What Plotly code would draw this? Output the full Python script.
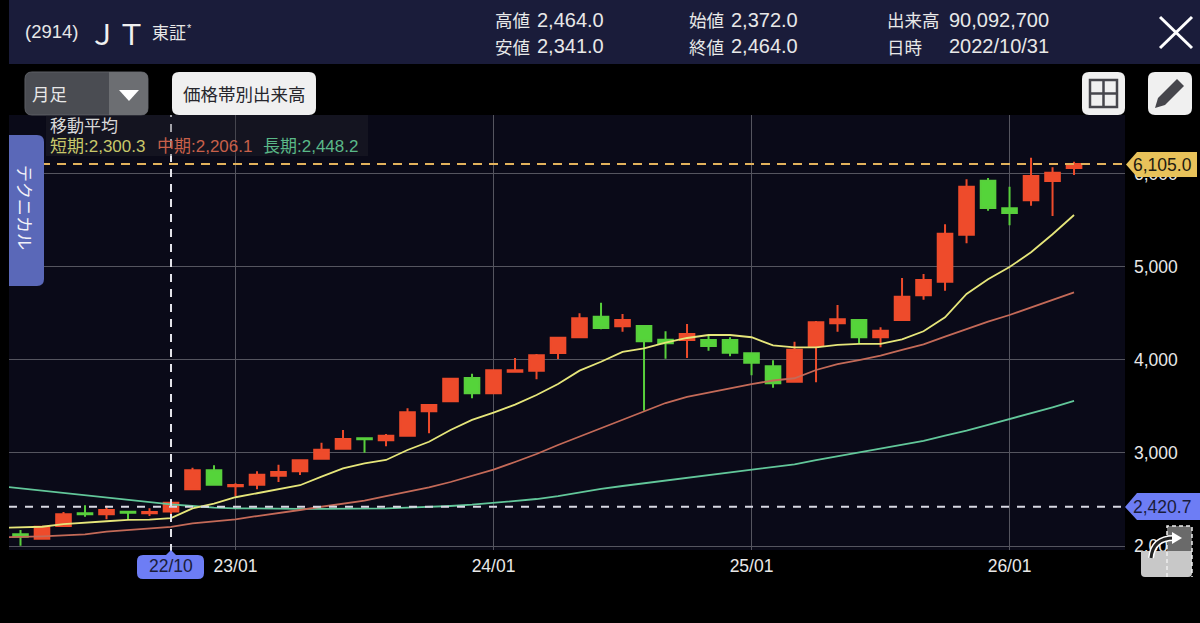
import plotly.graph_objects as go

W, H = 1200, 623
FONT = "Liberation Sans, Noto Sans CJK JP, sans-serif"
CJK = "Noto Sans CJK JP, sans-serif"

months = ["22/02", "22/03", "22/04", "22/05", "22/06", "22/07", "22/08", "22/09", "22/10", "22/11", "22/12",
          "23/01", "23/02", "23/03", "23/04", "23/05", "23/06", "23/07", "23/08", "23/09", "23/10", "23/11", "23/12",
          "24/01", "24/02", "24/03", "24/04", "24/05", "24/06", "24/07", "24/08", "24/09", "24/10", "24/11", "24/12",
          "25/01", "25/02", "25/03", "25/04", "25/05", "25/06", "25/07", "25/08", "25/09", "25/10", "25/11", "25/12",
          "26/01", "26/02", "26/03", "26/04"]

opens = [None, 2126, 2078, 2215, 2352, 2341, 2369, 2351, 2372, 2610, 2814,
         2642, 2659, 2756, 2803, 2938, 3046, 3158, 3136, 3186, 3448, 3556, 3806,
         3642, 3874, 3884, 4075, 4243, 4465, 4362, 4365, 4218, 4215, 4215, 4215,
         4072, 3932, 3766, 4150, 4394, 4430, 4243, 4430, 4695, 4841, 5347, 5927,
         5630, 5716, 5924, 6064]
highs = [None, 2172, 2210, 2365, 2437, 2433, 2380, 2405, 2464, 2842, 2868,
         2674, 2803, 2874, 2925, 3110, 3247, 3164, 3204, 3480, 3527, 3809, 3852,
         3889, 4021, 4064, 4239, 4501, 4615, 4494, 4365, 4308, 4387, 4268, 4243,
         4072, 3996, 4196, 4419, 4591, 4440, 4351, 4881, 4924, 5458, 5942, 5956,
         5863, 6174, 6071, 6131]
lows = [None, 2003, 2070, 2204, 2315, 2287, 2280, 2322, 2341, 2600, 2652,
        2538, 2610, 2688, 2763, 2928, 3046, 3003, 3072, 3186, 3212, 3556, 3588,
        3642, 3874, 3792, 4010, 4233, 4330, 4304, 3454, 4013, 4021, 4100, 4039,
        3835, 3702, 3766, 3760, 4304, 4179, 4136, 4430, 4648, 4744, 5254, 5604,
        5448, 5658, 5548, 5988]
closes = [None, 2100, 2207, 2341, 2342, 2387, 2358, 2365, 2464, 2814, 2659,
          2656, 2766, 2796, 2921, 3035, 3150, 3147, 3186, 3437, 3516, 3799, 3642,
          3889, 3889, 4050, 4239, 4448, 4343, 4430, 4200, 4179, 4279, 4150, 4078,
          3970, 3749, 4110, 4405, 4437, 4243, 4314, 4680, 4860, 5357, 5863, 5634,
          5580, 5978, 6013, 6105]

ma_short = [2195, 2201, 2207, 2236, 2255, 2266, 2280, 2283, 2300.3, 2405, 2455,
            2524, 2567, 2610, 2653, 2745, 2835, 2889, 2925, 3032, 3121, 3247, 3355,
            3433, 3519, 3623, 3742, 3885, 3981, 4086, 4125, 4185, 4236, 4268, 4268,
            4244, 4157, 4136, 4136, 4161, 4172, 4172, 4222, 4308, 4459, 4709, 4867,
            4999, 5157, 5351, 5558]
ma_mid = [2092, 2097, 2104, 2115, 2126, 2154, 2172, 2190, 2206.1, 2244, 2266,
          2287, 2322, 2352, 2387, 2422, 2451, 2487, 2537, 2580, 2629, 2688, 2752,
          2822, 2903, 2989, 3086, 3177, 3265, 3354, 3444, 3537, 3602, 3648, 3698,
          3741, 3779, 3803, 3892, 3956, 3999, 4046, 4107, 4168, 4250, 4333, 4411,
          4483, 4562, 4644, 4727]
ma_long = [2645, 2620, 2591, 2567, 2541, 2516, 2495, 2473, 2448.2, 2430, 2412,
           2405, 2401, 2400, 2400, 2400, 2400, 2401, 2405, 2412, 2419, 2430, 2444,
           2465, 2484, 2505, 2537, 2577, 2613, 2645, 2674, 2702, 2731, 2756, 2788,
           2817, 2842, 2878, 2924, 2964, 3003, 3043, 3083, 3129, 3186, 3239, 3301,
           3362, 3427, 3491, 3559]

price_ticks = [2000, 3000, 4000, 5000, 6000]
month_ticks = ["23/01", "24/01", "25/01", "26/01"]
cursor_month = "22/10"
cursor_price = 2420.7
last_price = 6105.0

fig = go.Figure()

# === ローソク足 ===
fig.add_trace(go.Candlestick(
    x=months, open=opens, high=highs, low=lows, close=closes,
    increasing_line_color="#ee4b2b", increasing_fillcolor="#ee4b2b",
    decreasing_line_color="#58cf3c", decreasing_fillcolor="#55d43a",
    increasing_line_width=2, decreasing_line_width=2,
    hoverinfo="skip",
))

# === 移動平均 ===
for values, color in [(ma_long, "#62c79a"), (ma_mid, "#c46a58"), (ma_short, "#e6e67a")]:
    fig.add_trace(go.Scatter(x=months, y=values, mode="lines",
                             line=dict(color=color, width=1.8), hoverinfo="skip"))


def pt(x, y):
    return f"{x / W:.5f},{1 - y / H:.5f}"


def rounded(x0, y0, x1, y1, r, corners="abcd"):
    # a: 左上 b: 右上 c: 右下 d: 左下
    ra, rb, rc, rd = [r if k in corners else 0 for k in "abcd"]
    return (f"M {pt(x0 + ra, y0)} L {pt(x1 - rb, y0)} Q {pt(x1, y0)} {pt(x1, y0 + rb)} "
            f"L {pt(x1, y1 - rc)} Q {pt(x1, y1)} {pt(x1 - rc, y1)} "
            f"L {pt(x0 + rd, y1)} Q {pt(x0, y1)} {pt(x0, y1 - rd)} "
            f"L {pt(x0, y0 + ra)} Q {pt(x0, y0)} {pt(x0 + ra, y0)} Z")


def poly(*points):
    return "M " + " L ".join(pt(x, y) for x, y in points) + " Z"


def chrome(path, fill=None, line=None, width=0, dash=None):
    fig.add_shape(type="path", path=path, xref="paper", yref="paper", layer="above",
                  fillcolor=fill if fill else "rgba(0,0,0,0)",
                  line=dict(color=line if line else "rgba(0,0,0,0)", width=width, dash=dash))


def label(x, y, text, size=15, color="#e8e8e8", anchor="left", family=FONT, angle=0):
    fig.add_annotation(x=x / W, y=1 - y / H, xref="paper", yref="paper", text=text, showarrow=False,
                       xanchor=anchor, yanchor="middle", textangle=angle,
                       font=dict(size=size, color=color, family=family),
                       borderpad=0, borderwidth=0)


# === カーソルと現在値の線 ===
fig.add_shape(type="line", xref="x", yref="paper", x0=cursor_month, x1=cursor_month,
              y0=1 - 552 / H, y1=1 - 115 / H, layer="above",
              line=dict(color="#e4e4ea", width=2, dash="8px,7px"))
fig.add_shape(type="line", xref="paper", yref="y", x0=9 / W, x1=1125 / W, y0=cursor_price, y1=cursor_price,
              layer="above", line=dict(color="#d8d8e2", width=2, dash="8px,8px"))
fig.add_shape(type="line", xref="paper", yref="y", x0=9 / W, x1=1125 / W, y0=last_price, y1=last_price,
              layer="above", line=dict(color="#e2b25c", width=2, dash="9px,7px"))

# === ヘッダー ===
chrome(poly((9, 0), (1200, 0), (1200, 64), (9, 64)), fill="#1a1c3a")
label(25, 32, "(2914)", size=18.5)
label(88, 32, "ＪＴ", size=29, family=CJK, color="#f0f0f0")
label(152, 32, "東証", size=17, family=CJK)
label(187, 28, "*", size=11)
for x, y, name, value, vx in [(495, 20, "高値", "2,464.0", 537), (495, 46, "安値", "2,341.0", 537),
                              (689, 20, "始値", "2,372.0", 731), (689, 46, "終値", "2,464.0", 731),
                              (887, 20, "出来高", "90,092,700", 949), (887, 46, "日時", "2022/10/31", 949)]:
    label(x, y, name, size=17.5, family=CJK)
    label(vx, y, value, size=20)
fig.add_shape(type="line", xref="paper", yref="paper", layer="above", x0=1160 / W, x1=1192 / W,
              y0=1 - 17 / H, y1=1 - 48 / H, line=dict(color="#ffffff", width=3))
fig.add_shape(type="line", xref="paper", yref="paper", layer="above", x0=1192 / W, x1=1160 / W,
              y0=1 - 17 / H, y1=1 - 48 / H, line=dict(color="#ffffff", width=3))

# === ボタン類 ===
chrome(rounded(25, 72, 148, 115, 7), fill="#4a4c52", line="#5c5e64", width=1)
chrome(rounded(109, 72, 148, 115, 7, corners="bc"), fill="#6c6e72")
chrome(poly((119, 90), (139, 90), (129, 101)), fill="#ffffff")
label(32, 94, "月足", size=17.5, family=CJK)
chrome(rounded(172, 72, 316, 115, 7), fill="#f0f0f0")
label(244, 94, "価格帯別出来高", size=17.5, color="#26262c", anchor="center", family=CJK)
chrome(rounded(1082, 72, 1125, 115, 7), fill="#f0f0f0")
chrome(poly((1090, 80), (1117, 80), (1117, 107), (1090, 107)), line="#46464c", width=2.5)
fig.add_shape(type="line", xref="paper", yref="paper", layer="above", x0=1103.5 / W, x1=1103.5 / W,
              y0=1 - 80 / H, y1=1 - 107 / H, line=dict(color="#46464c", width=2.5))
fig.add_shape(type="line", xref="paper", yref="paper", layer="above", x0=1090 / W, x1=1117 / W,
              y0=1 - 93.5 / H, y1=1 - 93.5 / H, line=dict(color="#46464c", width=2.5))
chrome(rounded(1148, 72, 1192, 115, 7), fill="#f0f0f0")
chrome(poly((1155, 108), (1158, 98), (1177, 79), (1184, 86), (1165, 105)), fill="#46464c")

# === 移動平均パネル ===
chrome(poly((46, 115), (368, 115), (368, 156), (46, 156)), fill="rgba(40,40,50,0.35)")
label(50, 125, "移動平均", size=17, color="#d8d8d8", family=CJK)
label(50, 146, "短期:2,300.3", size=17, color="#c8c86a")
label(157, 146, "中期:2,206.1", size=17, color="#c8604a")
label(263, 146, "長期:2,448.2", size=17, color="#5ab888")

# === テクニカルタブ ===
chrome(rounded(9, 135, 44, 286, 7, corners="bc"), fill="#5a68b8")
label(26, 207, "テクニカル", size=17, color="#f2f2f8", anchor="center", family=CJK, angle=90)

# === 価格タグ ===
chrome(poly((1126, 164.5), (1137, 152), (1197, 152), (1197, 177), (1137, 177)), fill="#e8c25a")
label(1162, 165, "6,105.0", size=17.5, color="#1e1a10", anchor="center")
chrome(poly((1125, 507), (1137, 493), (1200, 493), (1200, 520), (1137, 520)), fill="#6d7df5")
label(1162, 507, "2,420.7", size=17.5, color="#1a1c3a", anchor="center")

# === 日付タグ ===
chrome(rounded(137, 555, 204, 579, 6), fill="#6d7df5")
chrome(poly((166, 555), (171, 550), (176, 555)), fill="#6d7df5")
label(170.5, 566, "22/10", size=17.5, color="#1a1c3a", anchor="center")

# === 右下アイコン ===
chrome(rounded(1141, 551, 1192, 577, 4, corners="cd"), fill="#c8c8c8")
chrome(rounded(1167, 526, 1192, 551, 4, corners="b"), fill="#6a6a6a")
chrome(f"M {pt(1167, 577)} L {pt(1167, 526)} L {pt(1192, 526)} L {pt(1192, 577)}", line="#eeeeee", width=1.5, dash="4px,3px")
chrome(f"M {pt(1151, 558)} Q {pt(1153, 538)} {pt(1174, 538)}", line="#ffffff", width=6)
chrome(f"M {pt(1151, 558)} Q {pt(1153, 538)} {pt(1174, 538)}", line="#222222", width=3)
chrome(poly((1172, 532), (1182, 538), (1172, 544)), fill="#ffffff")

fig.update_layout(
    width=W, height=H,
    margin=dict(l=0, r=0, t=0, b=0),
    paper_bgcolor="#000000",
    plot_bgcolor="#0a0a18",
    showlegend=False,
    hovermode=False,
    boxgap=0.2,
    boxgroupgap=0.15,
    font=dict(family=FONT),
    xaxis=dict(
        domain=[9 / W, 1125 / W],
        automargin=False,
        type="category",
        categoryorder="array",
        categoryarray=months,
        range=[0.465, 52.37],
        rangeslider_visible=False,
        tickmode="array",
        tickvals=month_ticks,
        ticktext=month_ticks,
        tickangle=0,
        ticks="",
        ticklabelstandoff=3,
        tickfont=dict(size=17.5, color="#e8e8e8"),
        showgrid=True,
        gridcolor="#55555f",
        gridwidth=1,
        zeroline=False,
        showline=False,
        fixedrange=True,
    ),
    yaxis=dict(
        domain=[1 - 550 / H, 1 - 115 / H],
        automargin=False,
        side="right",
        range=[1957, 6633],
        tickmode="array",
        tickvals=price_ticks,
        tickformat=",d",
        ticks="",
        ticklabelstandoff=8,
        tickfont=dict(size=17.5, color="#e8e8e8"),
        showgrid=True,
        gridcolor="#55555f",
        gridwidth=1,
        zeroline=False,
        showline=False,
        fixedrange=True,
    ),
)

fig.write_html("out.html", config={"displayModeBar": False},
               post_script="document.body.style.margin='0';document.body.style.background='#000';")
